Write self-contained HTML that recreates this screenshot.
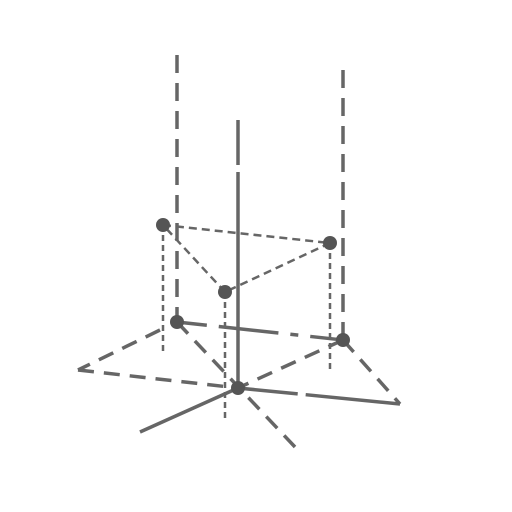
<!DOCTYPE html>
<html><head><meta charset="utf-8"><style>body{margin:0;background:#fff}svg{display:block}</style></head>
<body>
<svg id="c" width="512" height="512" viewBox="0 0 512 512">
<g id="g" stroke="#666" fill="none" stroke-linecap="butt"></g>
</svg>
<script>
const upperX=[163,330,225];
const upperY=[225,243,292];
const lowerX=[177,343,238];
const lowerY=[322,340,388];
const ns='http://www.w3.org/2000/svg';
const g=document.getElementById('g');
function line(x1,y1,x2,y2,w,dash,name){
  const l=document.createElementNS(ns,'line');
  l.setAttribute('x1',x1);l.setAttribute('y1',y1);l.setAttribute('x2',x2);l.setAttribute('y2',y2);
  l.setAttribute('stroke-width',w);if(dash)l.setAttribute('stroke-dasharray',dash);
  
  
  g.appendChild(l);
}
function dot(x,y,name){
  const c=document.createElementNS(ns,'circle');
  c.setAttribute('cx',x);c.setAttribute('cy',y);c.setAttribute('r',7);c.setAttribute('fill','#555');c.setAttribute('stroke','none');
  
  
  g.appendChild(c);
}
line(238,120,238,165,3.5,null,'z-axis');
line(238,172,238,388,3.5,null,'z-axis-lower');
line(238,388,140,432,3.5,null,'x-axis');
line(238,388,400,404,3.5,'60 8 200','y-axis');
line(lowerX[0],55,lowerX[0],lowerY[0],3.5,'18 10','left-vertical');
line(lowerX[1],70,lowerX[1],lowerY[1],3.5,'18 10','right-vertical');
line(lowerX[0],lowerY[0],295,447,3.5,'16 10','diag-dash');
line(lowerX[1],lowerY[1],400,404,3.5,'16 10','right-dash');
line(lowerX[1],lowerY[1],lowerX[2],lowerY[2],3.5,'16 10','back-dash');
line(160,330,78,370,3.5,'16 10','left-edge');
line(78,370,lowerX[2],lowerY[2],3.5,'16 10','front-edge');
line(lowerX[0],lowerY[0],lowerX[1],lowerY[1],3.5,'30 12 60 12 8 12','base-top-edge');
for(let i=0;i<3;i++){const j=(i+1)%3;
  line(upperX[i],upperY[i],upperX[j],upperY[j],2.5,'8 5','triangle-edge');
  line(upperX[i],upperY[i],upperX[i],[355,372,420][i],2.5,'6 4','drop-line');}
for(let i=0;i<3;i++)dot(upperX[i],upperY[i],'upper-point');
for(let i=0;i<3;i++)dot(lowerX[i],lowerY[i],'lower-point');
</script>
</body></html>
